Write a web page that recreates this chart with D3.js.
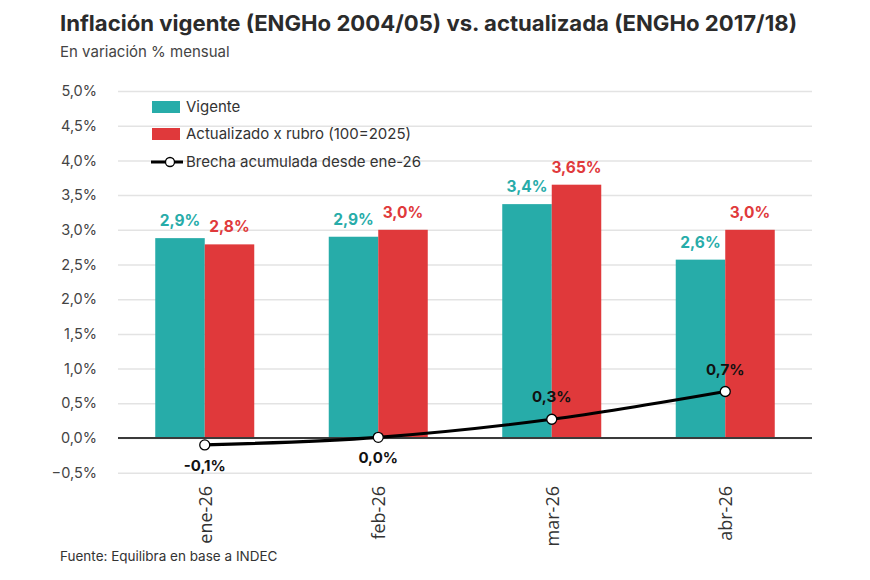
<!DOCTYPE html>
<html><head><meta charset="utf-8">
<script src="https://cdn.jsdelivr.net/npm/d3@7"></script>
<style>body{margin:0;background:#fff}svg{display:block}</style>
</head><body>
<svg id="c" width="870" height="580"></svg>
<script>
const categories = ["ene-26","feb-26","mar-26","abr-26"];
const vigente = [2.88, 2.9, 3.37, 2.57];
const vigenteLabels = ["2,9%","2,9%","3,4%","2,6%"];
const actualizado = [2.79, 3.0, 3.65, 3.0];
const actualizadoLabels = ["2,8%","3,0%","3,65%","3,0%"];
const brecha = [-0.1, 0.01, 0.27, 0.67];
const brechaLabels = ["-0,1%","0,0%","0,3%","0,7%"];
const yTicks = [-0.5,0,0.5,1,1.5,2,2.5,3,3.5,4,4.5,5];

const TEAL = "#27aca9", RED = "#e0393b";
const svg = d3.select("#c");
const font = "Inter, 'Noto Sans', sans-serif";
const mLeft = 118, mRight = 812, mTop = 91, mBottom = 472.7;

const x = d3.scaleBand().domain(categories).range([mLeft, mRight]).paddingInner(0).paddingOuter(0);
const y = d3.scaleLinear().domain([-0.5, 5]).range([mBottom, mTop]);
const bw = 49.5;

// title
svg.append("text").attr("x", 60).attr("y", 31).attr("font-family", font).attr("font-weight", 700)
  .attr("font-size", 21.5).attr("fill", "#2b2b2b").attr("textLength", 737).attr("lengthAdjust","spacingAndGlyphs")
  .text("Inflación vigente (ENGHo 2004/05) vs. actualizada (ENGHo 2017/18)");
svg.append("text").attr("x", 60).attr("y", 57).attr("font-family", font).attr("font-weight", 400)
  .attr("font-size", 15).attr("fill", "#444").text("En variación % mensual");

// grid
const yAxis = d3.axisLeft(y).tickValues(yTicks).tickSize(-(mRight-mLeft))
  .tickFormat(d => d3.format(".1f")(d).replace(".", ",") + "%");
const ga = svg.append("g").attr("transform", `translate(${mLeft},0)`).call(yAxis);
ga.select(".domain").remove();
ga.selectAll(".tick line").attr("stroke", "#e3e3e3").attr("stroke-width", 1.5);
ga.selectAll(".tick text").attr("x", -21).attr("font-family", font).attr("font-size", 14.5).attr("fill", "#444");

// bars
const g = svg.append("g");
const cx = d => x(d) + x.bandwidth()/2;
g.selectAll(".bv").data(categories).join("rect")
  .attr("x", (d) => cx(d) - bw).attr("width", bw)
  .attr("y", (d,i) => y(vigente[i])).attr("height", (d,i) => y(0) - y(vigente[i]))
  .attr("fill", TEAL);
g.selectAll(".ba").data(categories).join("rect")
  .attr("x", (d) => cx(d)).attr("width", bw)
  .attr("y", (d,i) => y(actualizado[i])).attr("height", (d,i) => y(0) - y(actualizado[i]))
  .attr("fill", RED);

// bar labels
g.selectAll(".lv").data(categories).join("text")
  .attr("x", d => cx(d) - bw/2).attr("y", (d,i) => y(vigente[i]) - 12)
  .attr("text-anchor", "middle").attr("font-family", font).attr("font-weight", 700).attr("font-size", 15.5)
  .attr("fill", TEAL).text((d,i) => vigenteLabels[i]);
g.selectAll(".la").data(categories).join("text")
  .attr("x", d => cx(d) + bw/2).attr("y", (d,i) => y(actualizado[i]) - 12)
  .attr("text-anchor", "middle").attr("font-family", font).attr("font-weight", 700).attr("font-size", 15.5)
  .attr("fill", RED).text((d,i) => actualizadoLabels[i]);

// zero line
svg.append("line").attr("x1", mLeft).attr("x2", mRight).attr("y1", y(0)).attr("y2", y(0))
  .attr("stroke", "#3a3a3a").attr("stroke-width", 2);

// line
const line = d3.line().x((d,i) => cx(categories[i])).y(d => y(d)).curve(d3.curveMonotoneX);
svg.append("path").datum(brecha).attr("d", line).attr("fill", "none").attr("stroke", "#000").attr("stroke-width", 3.2);
svg.selectAll(".pt").data(brecha).join("circle")
  .attr("cx", (d,i) => cx(categories[i])).attr("cy", d => y(d)).attr("r", 5)
  .attr("fill", "#fff").attr("stroke", "#000").attr("stroke-width", 1.3);
svg.selectAll(".pl").data(brecha).join("text")
  .attr("x", (d,i) => cx(categories[i])).attr("y", (d,i) => i < 2 ? y(d) + 26 : y(d) - 17)
  .attr("text-anchor", "middle").attr("font-family", font).attr("font-weight", 700).attr("font-size", 15)
  .attr("fill", "#111").text((d,i) => brechaLabels[i]);

// x labels
svg.selectAll(".xl").data(categories).join("text")
  .attr("transform", d => `translate(${cx(d)+7},486) rotate(-90)`)
  .attr("text-anchor", "end").attr("font-family", "'Open Sans', sans-serif").attr("font-size", 18)
  .attr("fill", "#333").text(d => d);

// legend
const lg = svg.append("g").attr("font-family", font).attr("font-size", 15).attr("fill", "#333");
lg.append("rect").attr("x", 152).attr("y", 101).attr("width", 28).attr("height", 12).attr("fill", TEAL);
lg.append("text").attr("x", 186).attr("y", 112).text("Vigente");
lg.append("rect").attr("x", 152).attr("y", 128).attr("width", 28).attr("height", 12).attr("fill", RED);
lg.append("text").attr("x", 186).attr("y", 139).text("Actualizado x rubro (100=2025)");
lg.append("line").attr("x1", 151).attr("x2", 183).attr("y1", 162).attr("y2", 162).attr("stroke", "#000").attr("stroke-width", 3);
lg.append("circle").attr("cx", 170).attr("cy", 162).attr("r", 4.5).attr("fill", "#fff").attr("stroke", "#000").attr("stroke-width", 1.3);
lg.append("text").attr("x", 186).attr("y", 167).text("Brecha acumulada desde ene-26");

// footer
svg.append("text").attr("x", 60).attr("y", 561).attr("font-family", font).attr("font-size", 13.5)
  .attr("fill", "#333").text("Fuente: Equilibra en base a INDEC");
</script>
</body></html>
